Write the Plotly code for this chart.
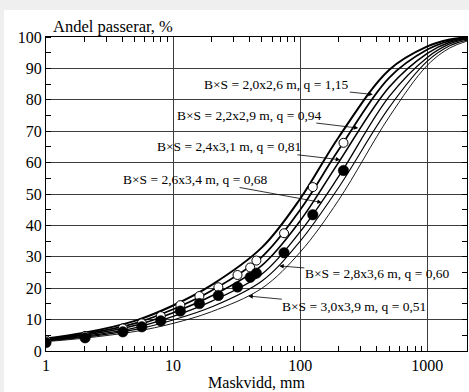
import math
import plotly.graph_objects as go

# ---- data ----
x_mm = [1, 2, 5, 10, 20, 50, 100, 200, 500, 1000, 1500, 2050]
c1 = [4.0, 5.8, 9.6, 14.5, 21.0, 33.0, 48.5, 68.0, 89.5, 97.0, 99.2, 99.9]
c2 = [3.8, 5.4, 8.8, 13.3, 19.2, 30.0, 45.0, 64.0, 87.0, 96.0, 98.8, 99.7]
c3 = [3.6, 5.0, 8.1, 12.2, 17.5, 27.3, 41.5, 60.0, 84.0, 94.8, 98.3, 99.5]
c4 = [3.4, 4.7, 7.4, 11.0, 15.8, 24.5, 38.0, 55.5, 81.0, 93.5, 97.8, 99.3]
c5 = [3.2, 4.4, 6.8, 9.9, 14.0, 22.3, 35.0, 52.0, 77.5, 92.3, 97.2, 99.0]
c6 = [3.0, 4.1, 6.2, 8.8, 12.5, 20.0, 31.5, 48.0, 74.5, 91.0, 96.5, 98.7]
curves = [c1, c2, c3, c4, c5, c6]
curve_labels = [
    "B×S = 2,0x2,6 m, q = 1,15",
    "B×S = 2,2x2,9 m, q = 0,94",
    "B×S = 2,4x3,1 m, q = 0,81",
    "B×S = 2,6x3,4 m, q = 0,68",
    "B×S = 2,8x3,6 m, q = 0,60",
    "B×S = 3,0x3,9 m, q = 0,51",
]
# arrow tips (data coords) for each label
tip_x = [372, 286, 206, 147.6, 68.5, 39.1]
tip_y = [81.7, 71.0, 60.9, 47.3, 27.1, 17.5]

meas_x = [1, 2.03, 4.02, 5.67, 8.0, 11.4, 16.1, 22.7, 32.1, 40.4, 45.2, 74.6, 125.6, 219]
open_y = [3.4, 4.8, 7.2, 8.8, 11.1, 14.6, 17.5, 20.3, 24.2, 26.6, 28.8, 37.5, 52.2, 66.3]
filled_y = [2.7, 4.2, 6.1, 7.7, 9.6, 12.7, 15.1, 17.7, 20.4, 23.5, 24.8, 31.3, 43.4, 57.5]

x_tickvals = [1, 10, 100, 1000]
x_ticktext = ["1", "10", "100", "1000"]
y_tickvals = list(range(0, 101, 10))

# ---- styling ----
widths = [2.0, 1.8, 1.6, 1.3, 1.1, 0.9]
label_offsets = [(-96, -10), (-109, -13), (-111, -13), (-126, -23), (98, 8), (106, 10)]
FONT = "Liberation Serif, Times New Roman, serif"

fig = go.Figure()
for c, w in zip(curves, widths):
    fig.add_trace(go.Scatter(x=x_mm, y=c, mode="lines",
                             line=dict(color="black", width=w, shape="spline", smoothing=1.0),
                             showlegend=False, hoverinfo="skip"))

fig.add_trace(go.Scatter(x=meas_x, y=open_y, mode="markers",
                         marker=dict(symbol="circle", size=9, color="white",
                                     line=dict(color="black", width=1)),
                         showlegend=False))
fig.add_trace(go.Scatter(x=meas_x, y=filled_y, mode="markers",
                         marker=dict(symbol="circle", size=10.5, color="black",
                                     line=dict(color="black", width=0.5)),
                         showlegend=False))

for lab, tx, ty, (ox, oy) in zip(curve_labels, tip_x, tip_y, label_offsets):
    fig.add_annotation(x=math.log10(tx), y=ty, xref="x", yref="y", text=lab,
                       showarrow=True, ax=ox, ay=oy, axref="pixel", ayref="pixel",
                       arrowhead=2, arrowsize=1.1, arrowwidth=0.8, arrowcolor="black",
                       font=dict(family=FONT, size=13.5, color="black"),
                       bgcolor="rgba(0,0,0,0)", borderpad=0)

fig.add_annotation(x=0.012, y=1.032, xref="paper", yref="paper",
                   text="Andel passerar, %", showarrow=False,
                   xanchor="left", yanchor="middle",
                   font=dict(family=FONT, size=16.5, color="black"))

minor_x = [v * d for d in (1, 10, 100) for v in range(2, 10)]

fig.update_xaxes(type="log", range=[0, 3.312], automargin=False,
                 tickvals=x_tickvals, ticktext=x_ticktext,
                 ticks="", showgrid=True, gridcolor="#3c3c3c", gridwidth=1,
                 showline=True, linecolor="black", linewidth=1, mirror="allticks",
                 minor=dict(tickvals=minor_x, ticks="inside", ticklen=5,
                            tickcolor="black", showgrid=False),
                 tickfont=dict(family=FONT, size=16, color="black"),
                 title=dict(text="Maskvidd, mm", standoff=3,
                            font=dict(family=FONT, size=16, color="black")),
                 zeroline=False)
fig.update_yaxes(range=[0, 100], tickvals=y_tickvals, automargin=False,
                 ticks="", showgrid=True, gridcolor="#3c3c3c", gridwidth=1,
                 showline=True, linecolor="black", linewidth=1, mirror="allticks",
                 minor=dict(dtick=5, ticks="inside", ticklen=5,
                            tickcolor="black", showgrid=False),
                 tickfont=dict(family=FONT, size=16, color="black"),
                 zeroline=False)

fig.add_shape(type="rect", xref="paper", yref="paper",
              x0=-0.0998, x1=1.2, y0=-0.3, y1=1.086,
              fillcolor="white", line=dict(width=0), layer="below")

fig.update_layout(width=469, height=392,
                  margin=dict(l=46, r=2, t=37, b=41),
                  paper_bgcolor="#efefef", plot_bgcolor="white",
                  showlegend=False)

fig.write_html("out.html", config={"displayModeBar": False},
               post_script="document.body.style.margin='0';"
                           "document.body.style.background='#efefef';")
